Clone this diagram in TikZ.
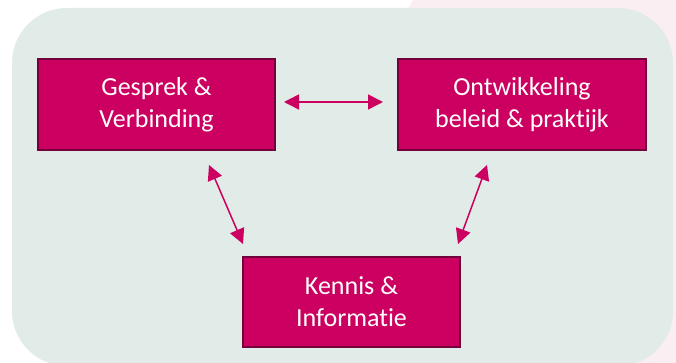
\documentclass[tikz,border=0pt]{standalone}
\usepackage{fontspec}
\setmainfont{Carlito}[Ligatures=NoCommon]
\usetikzlibrary{arrows.meta}

\definecolor{roze}{HTML}{CC0060}
\definecolor{rozerand}{HTML}{74003C}
\definecolor{vlak}{HTML}{E1ECE8}
\definecolor{achter}{HTML}{FBEEF3}

\tikzset{
  blok/.style={fill=roze, draw=rozerand, line width=2pt, text=white,
    align=center, inner sep=0pt,
    font=\fontsize{26pt}{32pt}\selectfont, minimum height=91pt},
  link/.style={draw=roze, line width=1.5pt,
    {Triangle[length=15pt,width=15pt]}-{Triangle[length=15pt,width=15pt]}}
}

\begin{document}
\begin{tikzpicture}[x=1pt,y=1pt]
  \useasboundingbox (0,0) rectangle (676,363);
  \begin{scope}
    \clip (0,0) rectangle (676,363);
    \fill[white] (0,0) rectangle (676,363);
    \fill[achter] (913,363-300) circle (583);
    \fill[vlak, rounded corners=55pt] (12,355) rectangle (673,-3);
  \end{scope}
  \node[blok, minimum width=237pt] (gesprek) at (156.5,258.5) {Gesprek \&\\Verbinding};
  \node[blok, minimum width=248pt] (beleid) at (522,258.5) {Ontwikkeling\\beleid \& praktijk};
  \node[blok, minimum width=217pt, minimum height=90pt] (kennis) at (351.5,61) {Kennis \&\\Informatie};
  \draw[link] ([xshift=8pt,yshift=2.5pt]gesprek.east) -- ([xshift=-14pt,yshift=2.5pt]beleid.west);
  \draw[link] ([xshift=52.5pt,yshift=-14pt]gesprek.south) -- ([xshift=1pt,yshift=12pt]kennis.north west);
  \draw[link] ([xshift=-35pt,yshift=-14pt]beleid.south) -- ([xshift=-3pt,yshift=12pt]kennis.north east);
\end{tikzpicture}
\end{document}
